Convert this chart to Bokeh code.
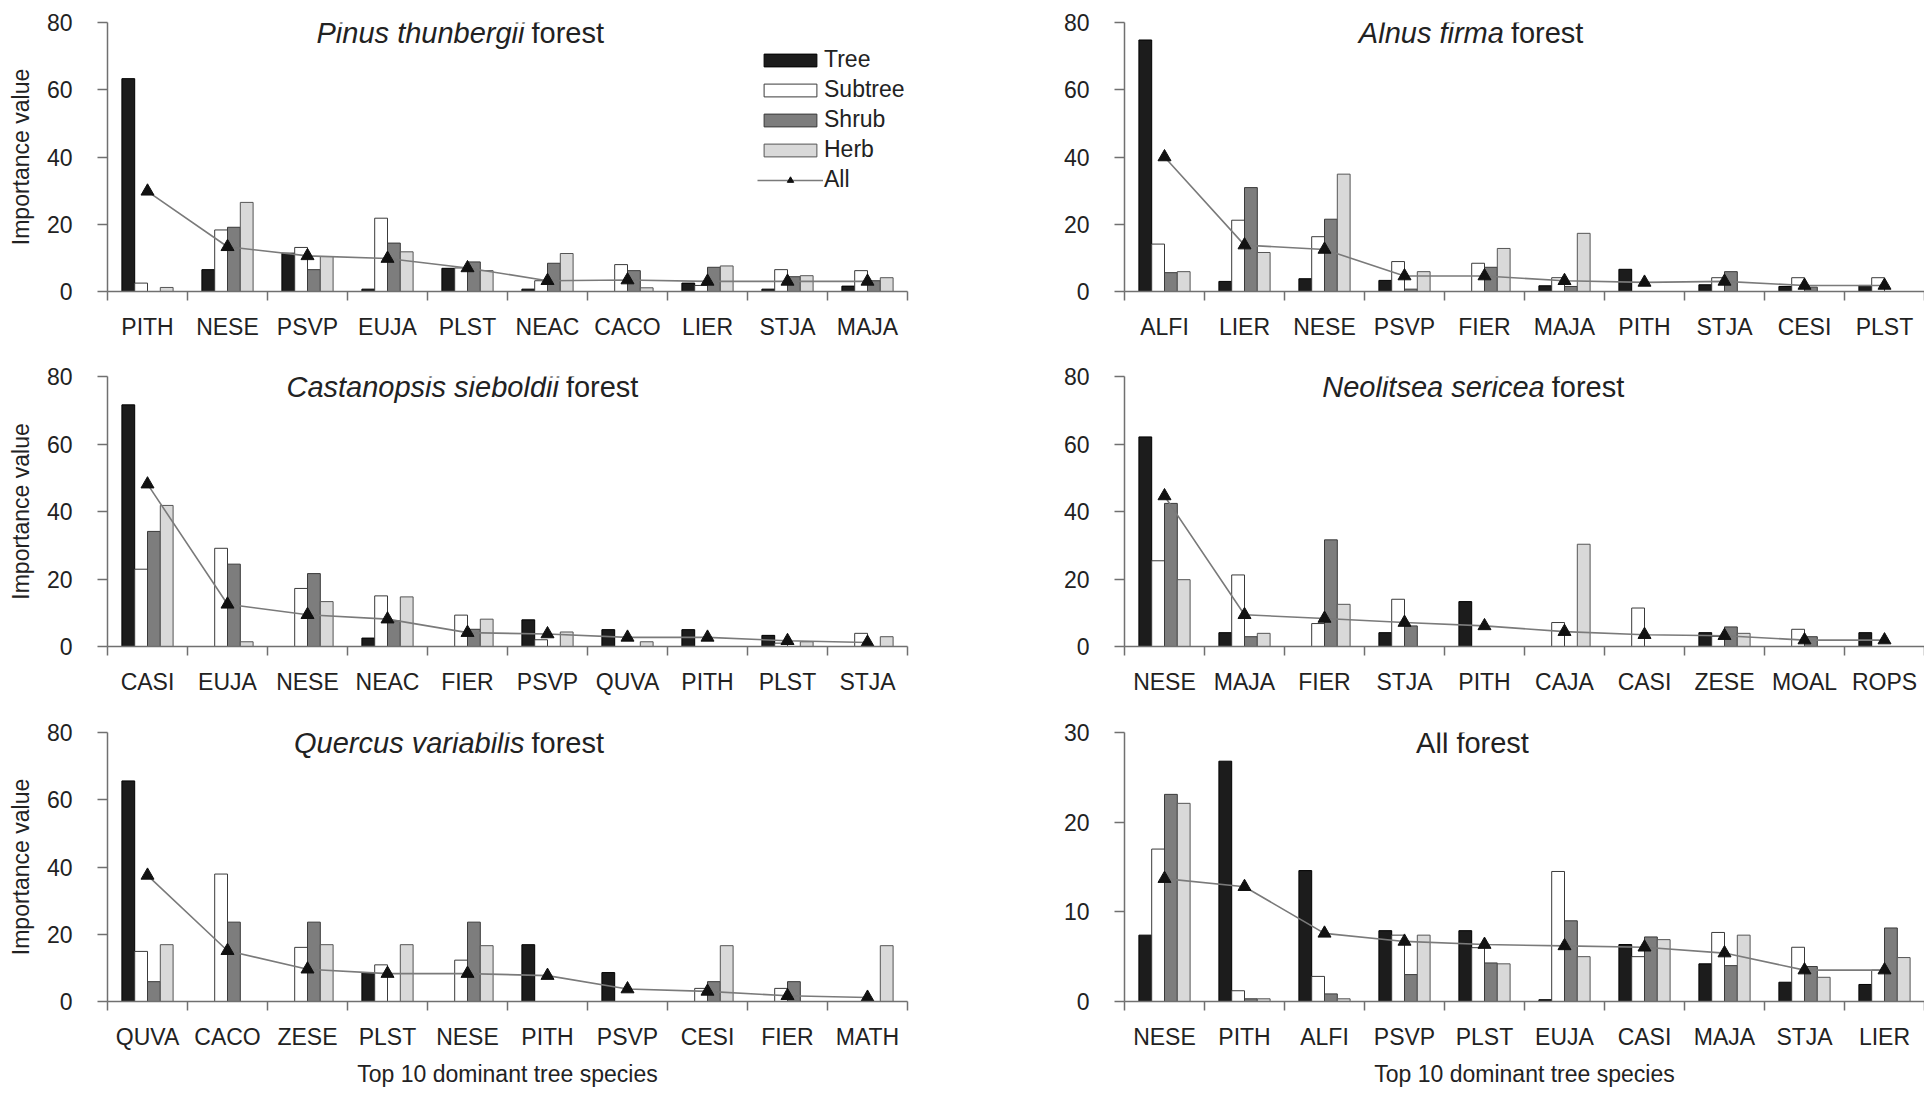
from bokeh.plotting import figure
from bokeh.models import Range1d, FixedTicker, Label, Legend, LegendItem, ColumnDataSource
from bokeh.layouts import column, row
from bokeh.transform import dodge
from bokeh.embed import file_html
from bokeh.resources import INLINE

# ---------------- data ----------------
pinus_species = ["PITH", "NESE", "PSVP", "EUJA", "PLST", "NEAC", "CACO", "LIER", "STJA", "MAJA"]
pinus_tree    = [63.3, 6.5, 11.4, 0.7, 6.9, 0.7, 0.0, 2.5, 0.7, 1.6]
pinus_subtree = [2.5, 18.3, 13.1, 21.8, 7.0, 3.2, 8.0, 1.8, 6.5, 6.2]
pinus_shrub   = [0.0, 19.1, 6.5, 14.4, 8.8, 8.4, 6.2, 7.2, 4.4, 3.2]
pinus_herb    = [1.2, 26.5, 10.4, 11.8, 6.2, 11.3, 1.1, 7.6, 4.7, 4.1]
pinus_all     = [29.8, 13.3, 10.6, 9.8, 7.0, 3.2, 3.4, 3.0, 3.0, 3.0]

alnus_species = ["ALFI", "LIER", "NESE", "PSVP", "FIER", "MAJA", "PITH", "STJA", "CESI", "PLST"]
alnus_tree    = [74.8, 3.0, 3.8, 3.3, 0.0, 1.7, 6.6, 2.0, 1.5, 1.8]
alnus_subtree = [14.1, 21.2, 16.3, 8.9, 8.4, 4.1, 0.0, 4.1, 4.1, 4.1]
alnus_shrub   = [5.6, 30.9, 21.5, 0.7, 7.2, 1.5, 0.0, 5.9, 1.3, 0.0]
alnus_herb    = [5.9, 11.6, 34.9, 5.9, 12.8, 17.3, 0.0, 0.0, 0.0, 0.0]
alnus_all     = [40.0, 13.8, 12.5, 4.6, 4.6, 3.2, 2.7, 3.0, 1.8, 1.8]

castanopsis_species = ["CASI", "EUJA", "NESE", "NEAC", "FIER", "PSVP", "QUVA", "PITH", "PLST", "STJA"]
castanopsis_tree    = [71.6, 0.0, 0.0, 2.5, 0.0, 7.9, 5.0, 5.0, 3.3, 0.0]
castanopsis_subtree = [22.9, 29.1, 17.2, 15.0, 9.3, 2.0, 0.0, 0.0, 1.0, 3.9]
castanopsis_shrub   = [34.1, 24.4, 21.6, 7.6, 5.1, 0.0, 0.0, 0.0, 0.0, 0.0]
castanopsis_herb    = [41.8, 1.4, 13.3, 14.7, 8.1, 4.3, 1.4, 0.0, 1.4, 2.9]
castanopsis_all     = [48.1, 12.5, 9.4, 8.1, 4.1, 3.7, 2.7, 2.7, 1.7, 1.2]

neolitsea_species = ["NESE", "MAJA", "FIER", "STJA", "PITH", "CAJA", "CASI", "ZESE", "MOAL", "ROPS"]
neolitsea_tree    = [62.1, 4.1, 0.0, 4.1, 13.3, 0.0, 0.0, 4.1, 0.0, 4.1]
neolitsea_subtree = [25.4, 21.2, 6.8, 14.0, 0.0, 7.1, 11.4, 3.0, 5.1, 0.0]
neolitsea_shrub   = [42.4, 2.9, 31.6, 6.1, 0.0, 0.0, 0.0, 5.8, 2.9, 0.0]
neolitsea_herb    = [19.8, 3.9, 12.5, 0.0, 0.0, 30.3, 0.0, 3.9, 0.0, 0.0]
neolitsea_all     = [44.6, 9.4, 8.3, 7.1, 6.1, 4.4, 3.5, 3.2, 1.9, 1.9]

quercus_species = ["QUVA", "CACO", "ZESE", "PLST", "NESE", "PITH", "PSVP", "CESI", "FIER", "MATH"]
quercus_tree    = [65.6, 0.0, 0.0, 8.6, 0.0, 16.9, 8.6, 0.0, 0.0, 0.0]
quercus_subtree = [14.9, 37.9, 16.1, 10.9, 12.3, 0.0, 0.0, 3.9, 3.9, 0.0]
quercus_shrub   = [5.9, 23.6, 23.6, 0.0, 23.6, 0.0, 0.0, 5.9, 5.9, 0.0]
quercus_herb    = [16.9, 0.0, 16.9, 16.9, 16.6, 0.0, 0.0, 16.6, 0.0, 16.6]
quercus_all     = [37.5, 15.1, 9.6, 8.3, 8.3, 7.7, 3.7, 3.0, 1.7, 1.2]

allforest_species = ["NESE", "PITH", "ALFI", "PSVP", "PLST", "EUJA", "CASI", "MAJA", "STJA", "LIER"]
allforest_tree    = [7.4, 26.8, 14.6, 7.9, 7.9, 0.2, 6.35, 4.2, 2.15, 1.9]
allforest_subtree = [17.0, 1.2, 2.8, 7.4, 6.0, 14.5, 5.0, 7.7, 6.05, 3.5]
allforest_shrub   = [23.1, 0.3, 0.85, 3.0, 4.3, 9.0, 7.2, 4.0, 3.9, 8.2]
allforest_herb    = [22.1, 0.3, 0.3, 7.4, 4.2, 5.0, 6.9, 7.4, 2.7, 4.9]
allforest_all     = [13.7, 12.8, 7.6, 6.7, 6.35, 6.2, 6.05, 5.4, 3.5, 3.5]

series_names = ["Tree", "Subtree", "Shrub", "Herb", "All"]
y_ticks_80 = [0, 20, 40, 60, 80]
y_ticks_30 = [0, 10, 20, 30]
x_axis_title = "Top 10 dominant tree species"
y_axis_title = "Importance value"

# ---------------- style ----------------
FONT = "Liberation Sans"
AXIS_COLOR = "#707070"
TEXT_COLOR = "#222222"
TICK_FS = "23px"
TITLE_FS = "29px"
BAR_W = 0.16
OFFS = [-0.24, -0.08, 0.08, 0.24]
FILLS = ["#1c1c1c", "#ffffff", "#7d7d7d", "#d9d9d9"]
LINES = ["#000000", "#3a3a3a", "#3a3a3a", "#555555"]


def panel(species, tree, subtree, shrub, herb, allv, yticks,
          title_it, title_rg, split_x, width, height, b_left, b_right, b_top, b_bottom,
          ylabel=False, xlabel=False, legend=False):
    ymax = yticks[-1]
    p = figure(width=width, height=height, x_range=Range1d(-0.5, 9.5), y_range=Range1d(0, ymax),
               output_backend="svg", toolbar_location=None,
               min_border_left=b_left, min_border_right=b_right,
               min_border_top=b_top, min_border_bottom=b_bottom)
    p.outline_line_color = None
    p.xgrid.visible = False
    p.ygrid.visible = False
    p.background_fill_color = "white"
    p.border_fill_color = "white"

    src = ColumnDataSource(dict(idx=list(range(len(species))), tree=tree, subtree=subtree,
                                shrub=shrub, herb=herb, allv=allv))
    rends = []
    for k, col in enumerate(["tree", "subtree", "shrub", "herb"]):
        r = p.vbar(x=dodge("idx", OFFS[k]), top=col, bottom=0, width=BAR_W, source=src,
                   fill_color=FILLS[k], line_color=LINES[k], line_width=1)
        rends.append(r)
    rl = p.line(x="idx", y="allv", source=src, line_color="#7a7a7a", line_width=1.6)
    rs = p.scatter(x="idx", y="allv", source=src, marker="triangle", size=13,
                   fill_color="#111111", line_color="#111111")

    # x axis: labels at category centres, ticks at category boundaries
    xa = p.xaxis[0]
    xa.ticker = FixedTicker(ticks=list(range(len(species))),
                            minor_ticks=[i - 0.5 for i in range(len(species) + 1)])
    xa.major_label_overrides = {i: s for i, s in enumerate(species)}
    xa.major_tick_out = 0
    xa.major_tick_in = 0
    xa.minor_tick_out = 9
    xa.minor_tick_in = 0
    xa.axis_line_color = AXIS_COLOR
    xa.axis_line_width = 1.5
    xa.minor_tick_line_color = AXIS_COLOR
    xa.minor_tick_line_width = 1.5
    xa.major_label_standoff = 13
    xa.major_label_text_font = FONT
    xa.major_label_text_font_size = TICK_FS
    xa.major_label_text_color = TEXT_COLOR
    if xlabel:
        xa.axis_label = x_axis_title
        xa.axis_label_text_font = FONT
        xa.axis_label_text_font_size = TICK_FS
        xa.axis_label_text_font_style = "normal"
        xa.axis_label_text_color = TEXT_COLOR
        xa.axis_label_standoff = 8

    ya = p.yaxis[0]
    ya.ticker = FixedTicker(ticks=yticks)
    ya.major_tick_out = 10
    ya.major_tick_in = 0
    ya.minor_tick_line_color = None
    ya.axis_line_color = AXIS_COLOR
    ya.axis_line_width = 1.5
    ya.major_tick_line_color = AXIS_COLOR
    ya.major_tick_line_width = 1.5
    ya.major_label_standoff = 25
    ya.major_label_text_font = FONT
    ya.major_label_text_font_size = TICK_FS
    ya.major_label_text_color = TEXT_COLOR
    if ylabel:
        ya.axis_label = y_axis_title
        ya.axis_label_text_font = FONT
        ya.axis_label_text_font_size = TICK_FS
        ya.axis_label_text_font_style = "normal"
        ya.axis_label_text_color = TEXT_COLOR
        ya.axis_label_standoff = 10

    # panel title (italic genus/species + regular "forest")
    if title_it:
        p.add_layout(Label(x=split_x, y=ymax, text=title_it, text_align="right", text_baseline="top",
                           x_offset=-3, y_offset=6, text_font=FONT, text_font_size=TITLE_FS,
                           text_font_style="italic", text_color=TEXT_COLOR))
        p.add_layout(Label(x=split_x, y=ymax, text=title_rg, text_align="left", text_baseline="top",
                           x_offset=4, y_offset=6, text_font=FONT, text_font_size=TITLE_FS,
                           text_color=TEXT_COLOR))
    else:
        p.add_layout(Label(x=split_x, y=ymax, text=title_rg, text_align="center", text_baseline="top",
                           y_offset=6, text_font=FONT, text_font_size=TITLE_FS, text_color=TEXT_COLOR))

    if legend:
        items = [LegendItem(label=series_names[k], renderers=[rends[k]]) for k in range(4)]
        items.append(LegendItem(label=series_names[4], renderers=[rl, rs]))
        lg = Legend(items=items, location=(650, 98), glyph_width=66, glyph_height=16,
                    label_standoff=1, padding=0, margin=0, spacing=3,
                    label_text_font=FONT, label_text_font_size=TICK_FS,
                    label_text_color=TEXT_COLOR, border_line_color=None,
                    background_fill_alpha=0)
        p.add_layout(lg)
    return p


LW, RW = 964, 960
RB = 1124 - LW
p1 = panel(pinus_species, pinus_tree, pinus_subtree, pinus_shrub, pinus_herb, pinus_all, y_ticks_80,
           "Pinus thunbergii", "forest", 4.75, LW, 358, 107, 57, 22, 67, ylabel=True, legend=True)
p2 = panel(alnus_species, alnus_tree, alnus_subtree, alnus_shrub, alnus_herb, alnus_all, y_ticks_80,
           "Alnus firma", "forest", 4.28, RW, 358, RB, 0, 22, 67)
p3 = panel(castanopsis_species, castanopsis_tree, castanopsis_subtree, castanopsis_shrub,
           castanopsis_herb, castanopsis_all, y_ticks_80,
           "Castanopsis sieboldii", "forest", 5.18, LW, 355, 107, 57, 18, 67, ylabel=True)
p4 = panel(neolitsea_species, neolitsea_tree, neolitsea_subtree, neolitsea_shrub, neolitsea_herb,
           neolitsea_all, y_ticks_80,
           "Neolitsea sericea", "forest", 4.79, RW, 355, RB, 0, 18, 67)
p5 = panel(quercus_species, quercus_tree, quercus_subtree, quercus_shrub, quercus_herb, quercus_all,
           y_ticks_80, "Quercus variabilis", "forest", 4.75, LW, 385, 107, 57, 19, 97,
           ylabel=True, xlabel=True)
p6 = panel(allforest_species, allforest_tree, allforest_subtree, allforest_shrub, allforest_herb,
           allforest_all, y_ticks_30, None, "All forest", 3.85, RW, 385, RB, 0, 19, 97, xlabel=True)

layout = column(row(p1, p2), row(p3, p4), row(p5, p6))
open("out.html", "w").write(file_html(layout, INLINE))
